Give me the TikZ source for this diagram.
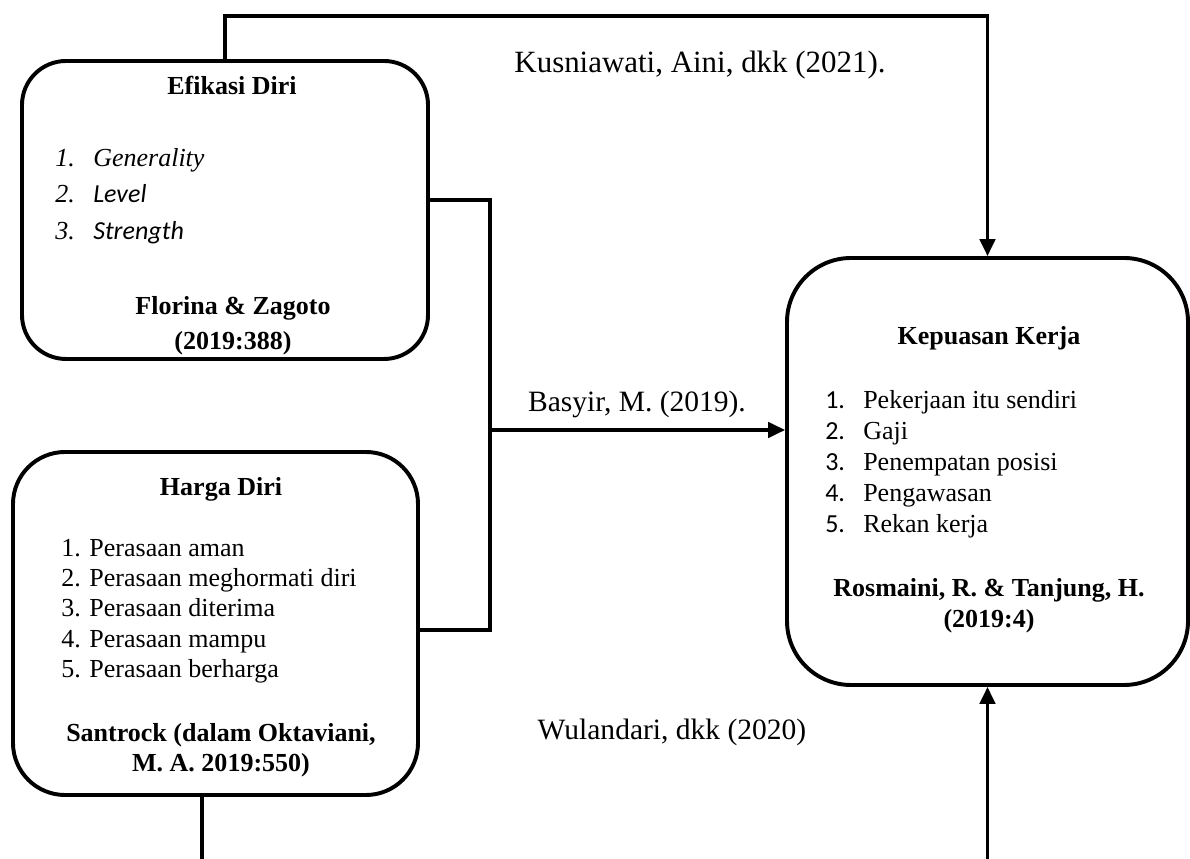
\documentclass[tikz,border=0pt]{standalone}
\usepackage{fontspec}
\setmainfont{Liberation Serif}
\newfontfamily\calibri{Carlito}
\usetikzlibrary{arrows.meta}

\begin{document}
\begin{tikzpicture}[
            box/.style = {draw, line width = 2.8pt, rounded corners = #1, inner sep = 0pt},
            link/.style = {line width = 2.3pt},
            tip/.style = {link, -{Triangle[length = 12pt, width = 11pt]}},
            title/.style = {anchor = base, inner sep = 0pt, font = \fontsize{18.5}{22}\selectfont\bfseries},
            item/.style = {anchor = base west, inner sep = 0pt, font = \fontsize{18.5}{22}\selectfont},
            cite/.style = {anchor = base, inner sep = 0pt, font = \fontsize{21}{25}\selectfont}
          ]

            \useasboundingbox (0,0) rectangle (29.75,21.475);

            \node [box = 1.1cm, minimum width = 10.15cm, minimum height = 7.45cm] (efikasi) at (5.625,16.225) {};
            \node [box = 1.3cm, minimum width = 10.125cm, minimum height = 8.575cm] (harga) at (5.3875,5.8875) {};
            \node [box = 1.6cm, minimum width = 10.025cm, minimum height = 10.675cm] (kepuasan) at (24.6875,9.6875) {};

            \node [title] (efi-title) at (5.8,19.1) {Efikasi Diri};
            \foreach \n/\y/\txt in {1/17.3/{\itshape Generality}, 2/16.4/{\calibri\itshape Level}, 3/15.475/{\calibri\itshape Strength}} {
              \node [item] (efi-num-\n) at (1.375,\y) {\itshape\n.};
              \node [item] (efi-item-\n) at (2.325,\y) {\txt};
            }
            \node [title] (efi-src-1) at (5.825,13.6) {Florina \& Zagoto};
            \node [title] (efi-src-2) at (5.825,12.725) {(2019:388)};

            \node [title] (harga-title) at (5.525,9.075) {Harga Diri};
            \foreach \n/\y/\txt in {1/7.55/aman, 2/6.8/meghormati diri, 3/6.05/diterima, 4/5.275/mampu, 5/4.525/berharga} {
              \node [item] (harga-item-\n) at (1.525,\y) {\n. Perasaan \txt};
            }
            \node [title] (harga-src-1) at (5.525,2.925) {Santrock (dalam Oktaviani,};
            \node [title] (harga-src-2) at (5.525,2.175) {M. A. 2019:550)};

            \node [title] (kep-title) at (24.725,12.85) {Kepuasan Kerja};
            \foreach \n/\y/\txt in {1/11.25/Pekerjaan itu sendiri, 2/10.475/Gaji, 3/9.7/Penempatan posisi, 4/8.925/Pengawasan, 5/8.15/Rekan kerja} {
              \node [item] (kep-num-\n) at (20.625,\y) {\calibri\n.};
              \node [item] (kep-item-\n) at (21.575,\y) {\txt};
            }
            \node [title] (kep-src-1) at (24.725,6.55) {Rosmaini, R. \& Tanjung, H.};
            \node [title] (kep-src-2) at (24.725,5.775) {(2019:4)};

            \coordinate (top-bend) at (5.625,21.075);
            \draw [tip] (efikasi.north) -- (top-bend) -| (kepuasan.north);

            \coordinate (join) at (12.25,10.725);
            \draw [link] ([yshift = 0.25cm]efikasi.east) -| (join);
            \draw [link] ([yshift = -0.16cm]harga.east) -| (join);
            \draw [tip] (join) -- (join -| kepuasan.west);

            \coordinate (harga-out) at (5.05,0);
            \coordinate (kep-in) at (24.6875,0);
            \draw [link] (harga.south -| harga-out) -- (harga-out);
            \draw [tip] (kep-in) -- (kepuasan.south);

            \node [cite, font = \fontsize{22}{26}\selectfont] (kusniawati) at (17.5,19.65) {Kusniawati, Aini, dkk (2021).};
            \node [cite] (basyir) at (15.925,11.175) {Basyir, M. (2019).};
            \node [cite] (wulandari) at (16.8,2.975) {Wulandari, dkk (2020)};
            \end{tikzpicture}
\end{document}
